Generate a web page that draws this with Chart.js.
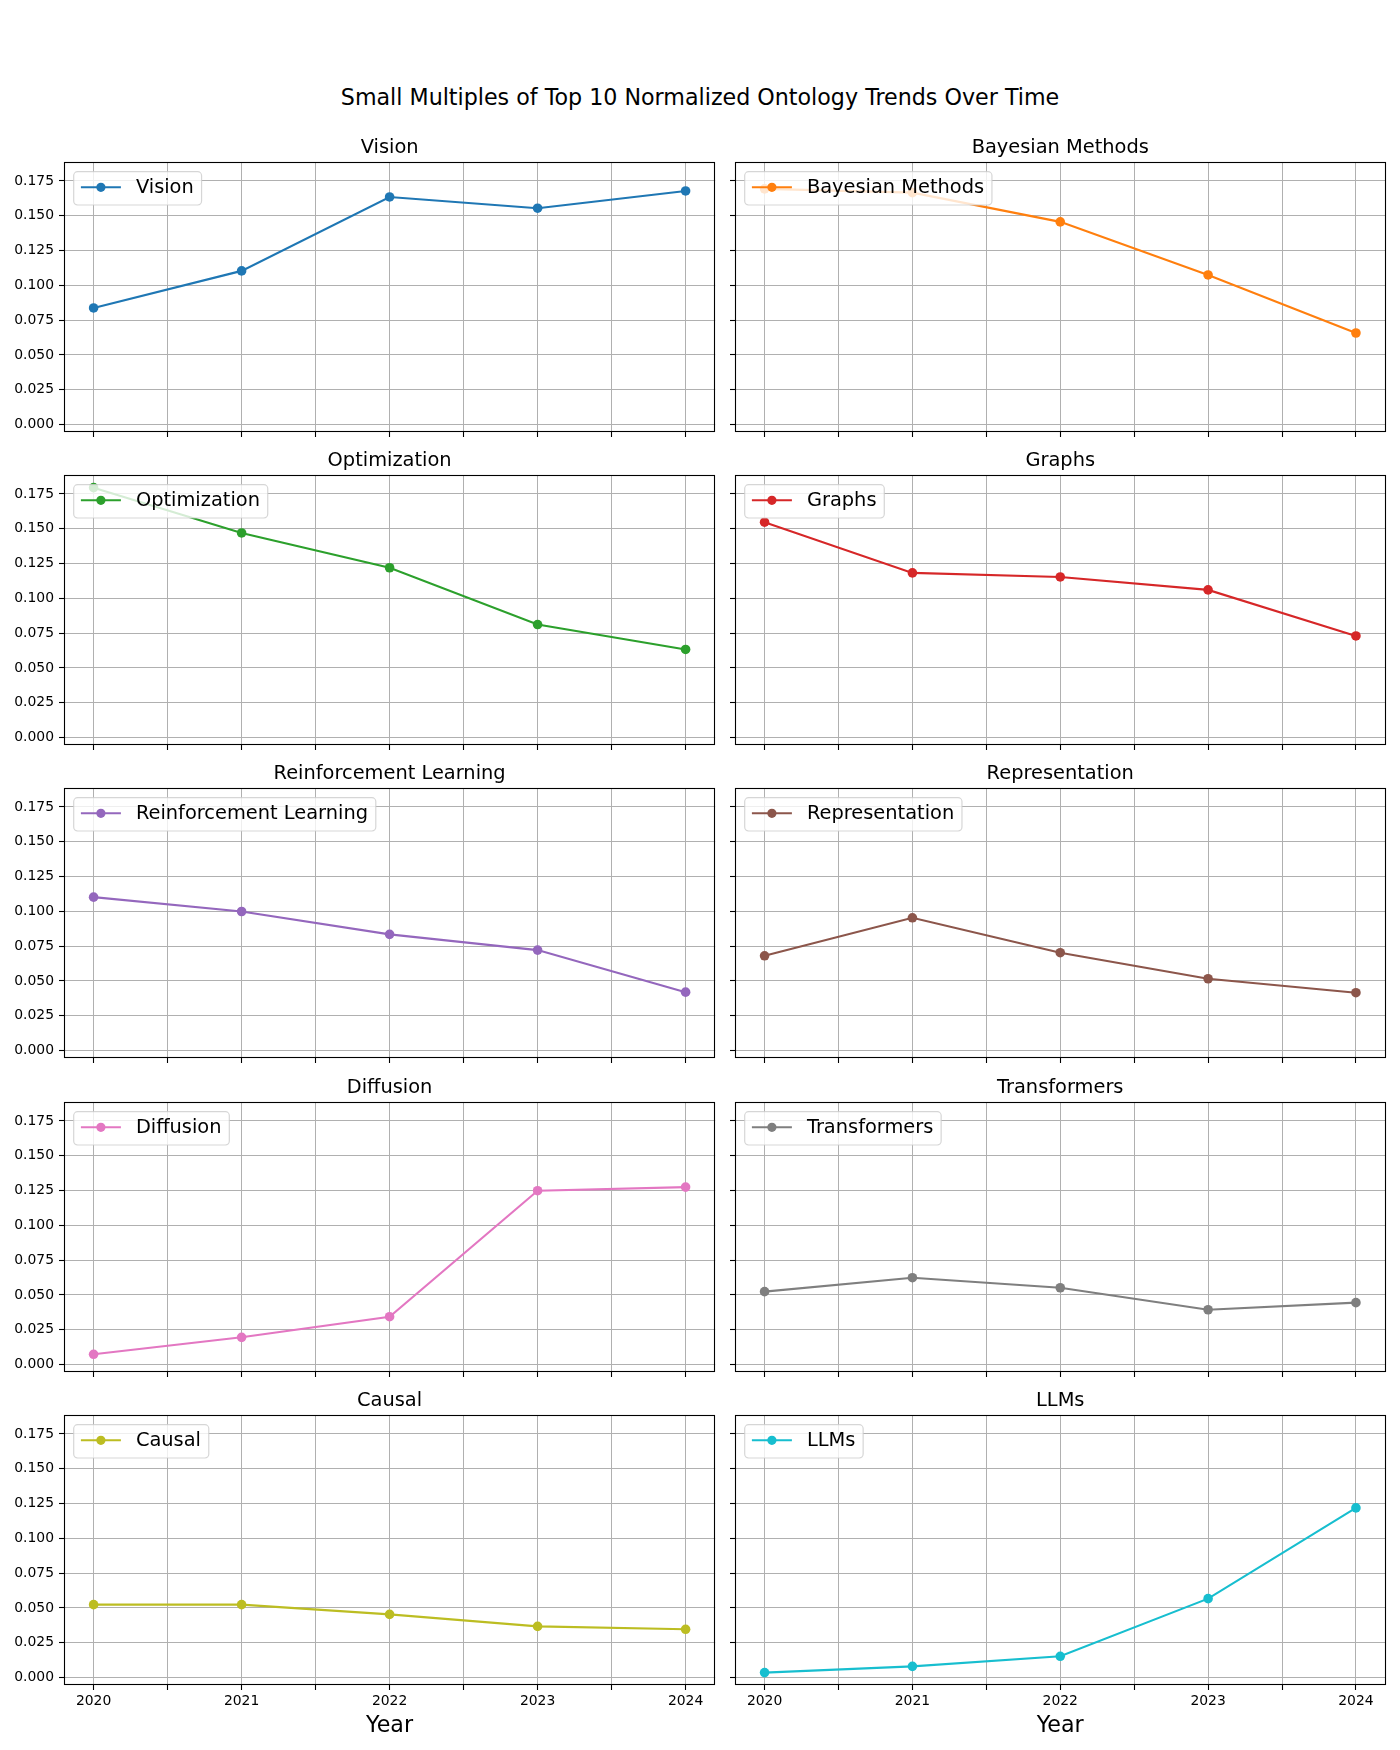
<!DOCTYPE html>
<html>
<head>
<meta charset="utf-8">
<script src="https://cdn.jsdelivr.net/npm/chart.js@4.4.1/dist/chart.umd.min.js"></script>
<style>
  html, body { margin: 0; padding: 0; background: #ffffff; }
  #wrap { position: relative; width: 1400px; height: 1750px; background: #ffffff; overflow: hidden; }
  #mainTitle { position: absolute; left: 0; top: 83.5px; width: 1400px; text-align: center;
    font-family: "DejaVu Sans", sans-serif; font-size: 22.2px; line-height: 26.6px; color: #000; }
  canvas.cell { position: absolute; }
</style>
</head>
<body>
<div id="wrap">
  <div id="mainTitle">Small Multiples of Top 10 Normalized Ontology Trends Over Time</div>
</div>
<script>
// ---------------- DATA ----------------
const years = [2020, 2021, 2022, 2023, 2024];
const xTickValues = [2020, 2020.5, 2021, 2021.5, 2022, 2022.5, 2023, 2023.5, 2024];
const yTickValues = [0, 0.025, 0.05, 0.075, 0.1, 0.125, 0.15, 0.175];
const topics = ['Vision', 'Bayesian Methods', 'Optimization', 'Graphs', 'Reinforcement Learning',
                'Representation', 'Diffusion', 'Transformers', 'Causal', 'LLMs'];

const vision         = [0.0838, 0.1104, 0.1635, 0.1554, 0.1678];
const bayesian       = [0.1693, 0.1666, 0.1456, 0.1075, 0.0658];
const optimization   = [0.1795, 0.1470, 0.1220, 0.0812, 0.0633];
const graphs         = [0.1547, 0.1183, 0.1154, 0.1061, 0.0730];
const reinforcement  = [0.1102, 0.0999, 0.0835, 0.0722, 0.0420];
const representation = [0.0681, 0.0954, 0.0703, 0.0516, 0.0416];
const diffusion      = [0.0074, 0.0196, 0.0344, 0.1249, 0.1275];
const transformers   = [0.0524, 0.0624, 0.0552, 0.0394, 0.0445];
const causal         = [0.0524, 0.0524, 0.0454, 0.0368, 0.0347];
const llms           = [0.0036, 0.0081, 0.0153, 0.0567, 0.1219];

const seriesList = [vision, bayesian, optimization, graphs, reinforcement,
                    representation, diffusion, transformers, causal, llms];
const colors = ['#1f77b4', '#ff7f0e', '#2ca02c', '#d62728', '#9467bd',
                '#8c564b', '#e377c2', '#7f7f7f', '#bcbd22', '#17becf'];
const xLabel = 'Year';

// ---------------- LAYOUT ----------------
const FONT = '"DejaVu Sans", sans-serif';
const rowTops = [162, 475, 788, 1102, 1415];
const areaH = 270;
const titleSpace = 40;
const colCanvas = [{ left: 0, width: 720, yAxisW: 64, padR: 3 },
                   { left: 720, width: 680, yAxisW: 15, padR: 14.5 }];
const markerR = 4.8;

// frame + in-axes legend (matplotlib style)
const framePlugin = {
  id: 'frameAndLegend',
  afterDatasetsDraw(chart) {
    const { ctx, chartArea: a } = chart;
    ctx.save();
    // spines
    ctx.strokeStyle = '#000';
    ctx.lineWidth = 1.1;
    ctx.strokeRect(Math.round(a.left) + 0.5, Math.round(a.top) + 0.5,
                   Math.round(a.right - a.left) - 1, Math.round(a.bottom - a.top) - 1);
    // legend
    const ds = chart.data.datasets[0];
    const fs = 19.4;
    ctx.font = fs + 'px ' + FONT;
    const tw = ctx.measureText(ds.label).width;
    const x0 = a.left + 9.7, y0 = a.top + 9.7;
    const w = 62.2 + tw + 7.8, h = 33.3;
    ctx.beginPath();
    if (ctx.roundRect) ctx.roundRect(x0, y0, w, h, 3.9); else ctx.rect(x0, y0, w, h);
    ctx.fillStyle = 'rgba(255,255,255,0.8)';
    ctx.fill();
    ctx.strokeStyle = 'rgba(204,204,204,0.8)';
    ctx.lineWidth = 1.2;
    ctx.stroke();
    const cy = y0 + 15.6;
    ctx.strokeStyle = ds.borderColor;
    ctx.lineWidth = 2.1;
    ctx.beginPath();
    ctx.moveTo(x0 + 7.2, cy);
    ctx.lineTo(x0 + 47.2, cy);
    ctx.stroke();
    ctx.fillStyle = ds.borderColor;
    ctx.beginPath();
    ctx.arc(x0 + 27.2, cy, markerR - 0.2, 0, Math.PI * 2);
    ctx.fill();
    ctx.fillStyle = '#000';
    ctx.textBaseline = 'middle';
    ctx.textAlign = 'left';
    ctx.fillText(ds.label, x0 + 62.2, cy + 0.5);
    ctx.restore();
  }
};

const wrap = document.getElementById('wrap');

topics.forEach((name, i) => {
  const row = Math.floor(i / 2), col = i % 2;
  const isBottom = row === rowTops.length - 1;
  const bottomH = isBottom ? 55 : 20;
  const cc = colCanvas[col];
  const canvas = document.createElement('canvas');
  canvas.className = 'cell';
  const cw = cc.width, ch = titleSpace + areaH + bottomH;
  canvas.width = cw; canvas.height = ch;
  canvas.style.width = cw + 'px'; canvas.style.height = ch + 'px';
  canvas.style.left = cc.left + 'px';
  canvas.style.top = (rowTops[row] - titleSpace) + 'px';
  wrap.appendChild(canvas);

  const color = colors[i];
  const vals = seriesList[i];

  new Chart(canvas.getContext('2d'), {
    type: 'line',
    data: {
      datasets: [{
        label: name,
        data: years.map((y, k) => ({ x: y, y: vals[k] })),
        borderColor: color,
        backgroundColor: color,
        pointBackgroundColor: color,
        pointBorderColor: color,
        pointRadius: markerR,
        pointBorderWidth: 0,
        borderWidth: 2.1,
        tension: 0,
        fill: false
      }]
    },
    options: {
      responsive: false,
      animation: false,
      devicePixelRatio: 1,
      layout: { padding: { left: 0, right: cc.padR, top: 0, bottom: 0 } },
      plugins: {
        legend: { display: false },
        tooltip: { enabled: false },
        title: {
          display: true,
          text: name,
          fullSize: false,
          color: '#000',
          font: { family: FONT, size: 19.4, weight: 'normal', lineHeight: 1.2 },
          padding: { top: 13.86, bottom: 2.86 }
        }
      },
      scales: {
        x: {
          type: 'linear',
          bounds: 'data',
          min: 2019.8,
          max: 2024.2,
          afterBuildTicks: (s) => { s.ticks = xTickValues.map(v => ({ value: v })); },
          afterFit: (s) => { s.height = bottomH; },
          ticks: {
            autoSkip: false, maxRotation: 0, minRotation: 0,
            color: '#000', padding: 3,
            font: { family: FONT, size: 13.9 },
            callback: (v) => (isBottom && Number.isInteger(v)) ? String(v) : ''
          },
          grid: { color: '#b0b0b0', lineWidth: 1, tickColor: '#000', tickLength: 5, tickWidth: 1.1 },
          border: { display: false },
          title: {
            display: isBottom, text: xLabel, color: '#000',
            font: { family: FONT, size: 22.2, lineHeight: 1.2 },
            padding: { top: 0, bottom: 0.8 }
          }
        },
        y: {
          type: 'linear',
          bounds: 'data',
          min: -0.0053,
          max: 0.1886,
          afterBuildTicks: (s) => { s.ticks = yTickValues.map(v => ({ value: v })); },
          afterFit: (s) => { s.width = cc.yAxisW; },
          ticks: {
            color: '#000', padding: 5,
            font: { family: FONT, size: 13.9 },
            callback: (v) => col === 0 ? Number(v).toFixed(3) : ''
          },
          grid: { color: '#b0b0b0', lineWidth: 1, tickColor: '#000', tickLength: 5, tickWidth: 1.1 },
          border: { display: false }
        }
      }
    },
    plugins: [framePlugin]
  });
});
</script>
</body>
</html>
